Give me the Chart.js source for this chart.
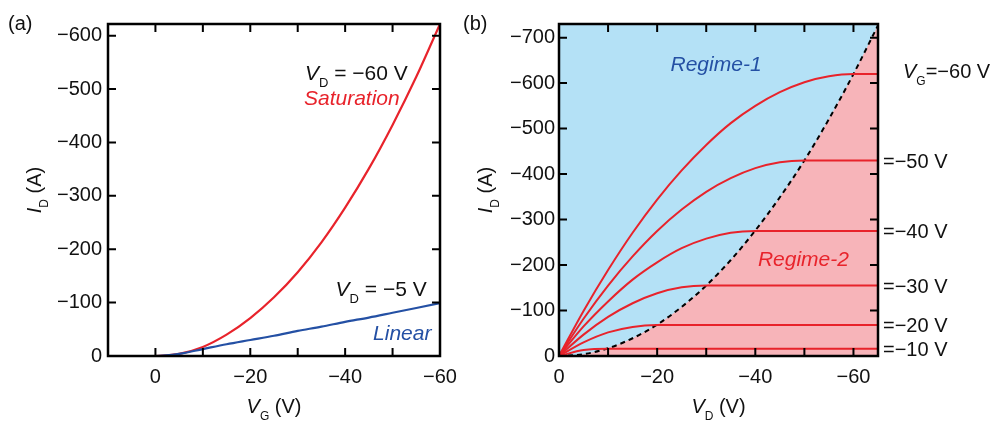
<!DOCTYPE html>
<html>
<head>
<meta charset="utf-8">
<script src="https://cdn.jsdelivr.net/npm/chart.js@4.4.1/dist/chart.umd.min.js"></script>
<style>
  html, body { margin: 0; padding: 0; background: #fff; }
  #wrap { position: relative; width: 1003px; height: 421px; }
  canvas { position: absolute; top: 0; }
  #chartA { left: 0; }
  #chartB { left: 460px; }
</style>
</head>
<body>
<div id="wrap">
  <canvas id="chartA" width="460" height="421"></canvas>
  <canvas id="chartB" width="543" height="421"></canvas>
</div>
<script>
// (a) transfer curves
const vgA = [10, 5, 0, -5, -10, -15, -20, -25, -30, -35, -40, -45, -50, -55, -60];
const idSaturation = [0, 0, 0, -4, -17, -40, -71, -110, -157, -213, -278, -351, -433, -523, -622];
const idLinear = [0, 0, 0, -4, -13, -22, -30, -38, -47, -55, -64, -72, -81, -90, -99];

// (b) output curves
const vdB = [0, -5, -10, -15, -20, -25, -30, -35, -40, -45, -50, -55, -60, -65];
const vgLevels = [-60, -50, -40, -30, -20, -10];
const idOut = [
    [0, -99, -189, -271, -344, -408, -464, -512, -550, -580, -602, -615, -620, -620],
    [0, -82, -155, -219, -275, -322, -361, -391, -413, -426, -430, -430, -430, -430],
    [0, -65, -120, -168, -206, -237, -258, -271, -275, -275, -275, -275, -275, -275],
    [0, -47, -86, -116, -138, -151, -155, -155, -155, -155, -155, -155, -155, -155],
    [0, -30, -52, -64, -68, -68, -68, -68, -68, -68, -68, -68, -68, -68],
    [0, -13, -16, -16, -16, -16, -16, -16, -16, -16, -16, -16, -16, -16]
];
const idBoundary = [0, -4, -17, -39, -69, -108, -155, -211, -276, -349, -430, -521, -620, -727];

const FONT = '"Liberation Sans", Arial, Helvetica, sans-serif';
const RED = '#e8232b';
const BLUE = '#2450a4';
const SKY = '#b4e1f6';
const PINK = '#f7b4b9';

function minus(v) {
    if (v === 0) return '0';
    return v < 0 ? '\u2212' + Math.abs(v) : String(v);
}

// parts: [text, style]  style '' normal, 'i' italic, 's' subscript
function drawParts(ctx, parts, x, yMid, align, size, color) {
    const fontOf = p => p[1] === 's'
        ? Math.round(size * 0.62) + 'px ' + FONT
        : (p[1] === 'i' ? 'italic ' : '') + size + 'px ' + FONT;
    let w = 0;
    parts.forEach(p => { ctx.font = fontOf(p); w += ctx.measureText(p[0]).width; });
    let cx = align === 'right' ? x - w : align === 'center' ? x - w / 2 : x;
    const base = yMid + size * 0.36;
    ctx.fillStyle = color || '#111';
    ctx.textAlign = 'left';
    ctx.textBaseline = 'alphabetic';
    parts.forEach(p => {
        ctx.font = fontOf(p);
        ctx.fillText(p[0], cx, base + (p[1] === 's' ? size * 0.34 : 0));
        cx += ctx.measureText(p[0]).width;
    });
}

// regular ticks every `step` inside [min, max]
function stepTicks(scale, step) {
    const out = [];
    for (let v = Math.ceil(scale.min / step) * step; v <= scale.max; v += step) {
        out.push({ value: v });
    }
    scale.ticks = out;
}

const framePlugin = {
    id: 'frame',
    afterDatasetsDraw(chart) {
        const { ctx, chartArea: a } = chart;
        const x = chart.scales.x, y = chart.scales.y;
        ctx.save();
        ctx.strokeStyle = '#000';
        ctx.lineWidth = 2;
        ctx.beginPath();
        x.ticks.forEach(t => {
            const px = x.getPixelForValue(t.value);
            if (px <= a.left + 2 || px >= a.right - 2) return;
            ctx.moveTo(px, a.bottom); ctx.lineTo(px, a.bottom - 8);
            ctx.moveTo(px, a.top); ctx.lineTo(px, a.top + 8);
        });
        y.ticks.forEach(t => {
            const py = y.getPixelForValue(t.value);
            if (py <= a.top + 2 || py >= a.bottom - 2) return;
            ctx.moveTo(a.left, py); ctx.lineTo(a.left + 8, py);
            ctx.moveTo(a.right, py); ctx.lineTo(a.right - 8, py);
        });
        ctx.stroke();
        ctx.lineWidth = 2.5;
        ctx.strokeRect(a.left, a.top, a.right - a.left, a.bottom - a.top);
        ctx.restore();
    }
};

function axisTitles(chart, xParts, yParts, yTitleX) {
    const { ctx, chartArea: a } = chart;
    ctx.save();
    drawParts(ctx, xParts, (a.left + a.right) / 2, 406, 'center', 20);
    ctx.translate(yTitleX, (a.top + a.bottom) / 2);
    ctx.rotate(-Math.PI / 2);
    drawParts(ctx, yParts, 0, 0, 'center', 20);
    ctx.restore();
}

function makeScales(xMin, xMax, yMin, yMax, yWidth, yPad) {
    const tickFont = { family: FONT, size: 20 };
    return {
        x: {
            type: 'linear', min: xMin, max: xMax, reverse: true,
            grid: { display: false, drawTicks: false }, border: { display: false },
            afterBuildTicks: s => stepTicks(s, 10),
            afterFit: s => { s.height = 65; },
            ticks: {
                padding: 9, color: '#111', font: tickFont,
                autoSkip: false, maxRotation: 0,
                callback: v => (v % 20 === 0 ? minus(v) : '')
            }
        },
        y: {
            type: 'linear', min: yMin, max: yMax, reverse: true,
            grid: { display: false, drawTicks: false }, border: { display: false },
            afterBuildTicks: s => stepTicks(s, 100),
            afterFit: s => { s.width = yWidth; },
            ticks: { padding: yPad, color: '#111', font: tickFont, autoSkip: false, callback: v => minus(v) }
        }
    };
}

const baseOptions = {
    responsive: false,
    animation: false,
    devicePixelRatio: 1,
    plugins: { legend: { display: false }, tooltip: { enabled: false }, filler: { drawTime: 'beforeDatasetsDraw' } },
    elements: { point: { radius: 0 }, line: { cubicInterpolationMode: 'monotone' } }
};

// ---- panel (a)
const labelsA = {
    id: 'labelsA',
    afterDraw(chart) {
        const { ctx } = chart;
        const x = chart.scales.x, y = chart.scales.y;
        ctx.save();
        drawParts(ctx, [['(a)', '']], 8, 23, 'left', 20);
        drawParts(ctx, [['V', 'i'], ['D', 's'], [' = \u221260 V', '']], x.getPixelForValue(-53.2), y.getPixelForValue(-532), 'right', 21);
        drawParts(ctx, [['Saturation', 'i']], x.getPixelForValue(-51.5), y.getPixelForValue(-484), 'right', 21, RED);
        drawParts(ctx, [['V', 'i'], ['D', 's'], [' = \u22125 V', '']], x.getPixelForValue(-57.2), y.getPixelForValue(-127), 'right', 21);
        drawParts(ctx, [['Linear', 'i']], x.getPixelForValue(-58.2), y.getPixelForValue(-45), 'right', 21, BLUE);
        ctx.restore();
        axisTitles(chart, [['V', 'i'], ['G', 's'], [' (V)', '']], [['I', 'i'], ['D', 's'], [' (A)', '']], 34);
    }
};

new Chart(document.getElementById('chartA'), {
    type: 'line',
    data: {
        datasets: [
            { data: vgA.map((v, i) => ({ x: v, y: idLinear[i] })), borderColor: BLUE, borderWidth: 2.2, fill: false },
            { data: vgA.map((v, i) => ({ x: v, y: idSaturation[i] })), borderColor: RED, borderWidth: 2.2, fill: false }
        ]
    },
    options: Object.assign({}, baseOptions, {
        layout: { padding: { top: 24, right: 20, left: 0, bottom: 0 } },
        scales: makeScales(-60, 10, -622, 0, 108, 6)
    }),
    plugins: [framePlugin, labelsA]
});

// ---- panel (b)
const regimePlugin = {
    id: 'regimes',
    beforeDraw(chart) {
        const { ctx, chartArea: a } = chart;
        ctx.save();
        ctx.fillStyle = SKY;
        ctx.fillRect(a.left, a.top, a.right - a.left, a.bottom - a.top);
        ctx.restore();
    },
    afterDraw(chart) {
        const { ctx, chartArea: a } = chart;
        const x = chart.scales.x, y = chart.scales.y;
        ctx.save();
        drawParts(ctx, [['(b)', '']], 3, 23, 'left', 20);
        drawParts(ctx, [['Regime-1', 'i']], x.getPixelForValue(-32), y.getPixelForValue(-644), 'center', 21, BLUE);
        drawParts(ctx, [['Regime-2', 'i']], x.getPixelForValue(-49.8), y.getPixelForValue(-215), 'center', 21, RED);
        vgLevels.forEach((vg, k) => {
            const level = idOut[k][idOut[k].length - 1];
            const py = y.getPixelForValue(level);
            if (k === 0) {
                drawParts(ctx, [['V', 'i'], ['G', 's'], ['=\u2212' + Math.abs(vg) + ' V', '']], a.right + 25, py - 3, 'left', 20);
            } else {
                drawParts(ctx, [['=\u2212' + Math.abs(vg) + ' V', '']], a.right + 5, py, 'left', 20);
            }
        });
        ctx.restore();
        axisTitles(chart, [['V', 'i'], ['D', 's'], [' (V)', '']], [['I', 'i'], ['D', 's'], [' (A)', '']], 25);
    }
};

const datasetsB = idOut.map(vals => ({
    data: vdB.map((v, i) => ({ x: v, y: vals[i] })),
    borderColor: RED, borderWidth: 2, fill: false
}));
datasetsB.push({
    data: vdB.map((v, i) => ({ x: v, y: idBoundary[i] })),
    borderColor: '#000', borderWidth: 2, borderDash: [5, 4],
    fill: 'origin', backgroundColor: PINK
});

new Chart(document.getElementById('chartB'), {
    type: 'line',
    data: { datasets: datasetsB },
    options: Object.assign({}, baseOptions, {
        layout: { padding: { top: 24, right: 125, left: 0, bottom: 0 } },
        scales: makeScales(-65, 0, -730, 0, 99, 4)
    }),
    plugins: [regimePlugin, framePlugin]
});
</script>
</body>
</html>
